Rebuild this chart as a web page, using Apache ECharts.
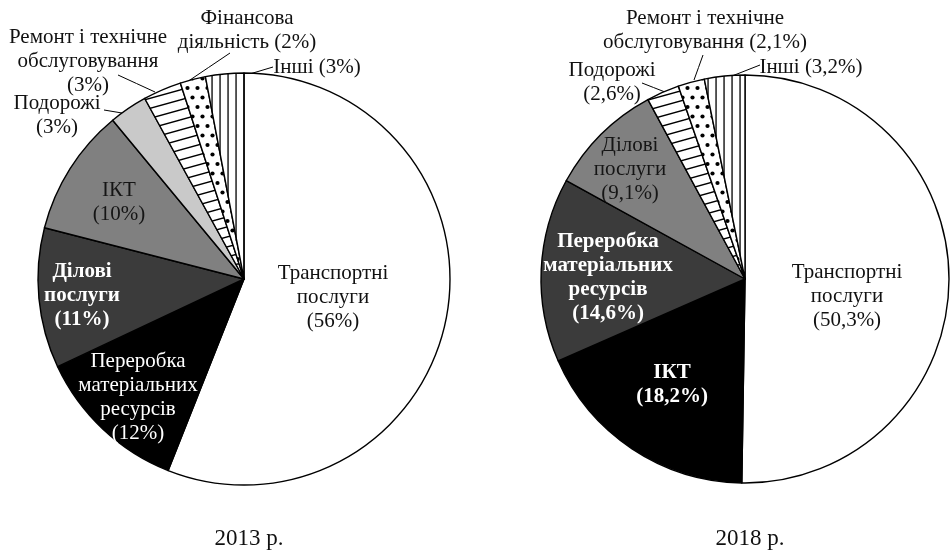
<!DOCTYPE html>
<html>
<head>
<meta charset="utf-8">
<script src="https://cdn.jsdelivr.net/npm/echarts@6/dist/echarts.min.js"></script>
<style>
html,body{margin:0;padding:0;background:#fff;}
#chart{width:950px;height:551px;}
</style>
</head>
<body>
<div id="chart"></div>
<script>
// ---- data ----
const categories2013 = ['Транспортні послуги', 'Переробка матеріальних ресурсів', 'Ділові послуги', 'ІКТ', 'Подорожі', 'Ремонт і технічне обслуговування', 'Фінансова діяльність', 'Інші'];
const values2013 = [56, 12, 11, 10, 3, 3, 2, 3];
const labelNames2013 = ['Транспортні\nпослуги', 'Переробка\nматеріальних\nресурсів', 'Ділові\nпослуги', 'ІКТ', 'Подорожі', 'Ремонт і технічне\nобслуговування', 'Фінансова\nдіяльність', 'Інші'];
const labelJoin2013 = ['\n', '\n', '\n', '\n', '\n', '\n', ' ', ' '];

const categories2018 = ['Транспортні послуги', 'ІКТ', 'Переробка матеріальних ресурсів', 'Ділові послуги', 'Подорожі', 'Ремонт і технічне обслуговування', 'Інші'];
const values2018 = [50.3, 18.2, 14.6, 9.1, 2.6, 2.1, 3.2];
const labelNames2018 = ['Транспортні\nпослуги', 'ІКТ', 'Переробка\nматеріальних\nресурсів', 'Ділові\nпослуги', 'Подорожі', 'Ремонт і технічне\nобслуговування', 'Інші'];
const labelJoin2018 = ['\n', '\n', '\n', '\n', '\n', ' ', ' '];

const titles = ['2013 р.', '2018 р.'];

// ---- patterns ----
function hLines() {
  const c = document.createElement('canvas'); c.width = 36; c.height = 10;
  const g = c.getContext('2d'); g.fillStyle = '#fff'; g.fillRect(0, 0, 36, 10);
  g.strokeStyle = '#000'; g.lineWidth = 1.4;
  [-10, 0, 10].forEach(k => { g.beginPath(); g.moveTo(0, k + 10); g.lineTo(36, k); g.stroke(); });
  return c;
}
function vLines() {
  const c = document.createElement('canvas'); c.width = 8; c.height = 8;
  const g = c.getContext('2d'); g.fillStyle = '#fff'; g.fillRect(0, 0, 8, 8);
  g.fillStyle = '#000'; g.fillRect(3.4, 0, 1.3, 8);
  return c;
}
function dots() {
  const c = document.createElement('canvas'); c.width = 10; c.height = 19;
  const g = c.getContext('2d'); g.fillStyle = '#fff'; g.fillRect(0, 0, 10, 19);
  g.fillStyle = '#000';
  [[2.5, 2.5], [7.5, 12]].forEach(p => { g.beginPath(); g.arc(p[0], p[1], 2.1, 0, Math.PI * 2); g.fill(); });
  return c;
}
const P_H = { image: hLines(), repeat: 'repeat' };
const P_V = { image: vLines(), repeat: 'repeat' };
const P_D = { image: dots(), repeat: 'repeat' };

// ---- styles ----
const fills2013 = ['#ffffff', '#000000', '#3b3b3b', '#808080', '#c9c9c9', P_H, P_D, P_V];
const fills2018 = ['#ffffff', '#000000', '#3b3b3b', '#808080', P_H, P_D, P_V];
const txt2013 = [
  { c: '#111', b: 'normal', pos: 'inside' }, { c: '#fff', b: 'normal', pos: 'inside' },
  { c: '#fff', b: 'bold', pos: 'inside' }, { c: '#151515', b: 'normal', pos: 'inside' },
  { c: '#111', b: 'normal', pos: 'outside' }, { c: '#111', b: 'normal', pos: 'outside' },
  { c: '#111', b: 'normal', pos: 'outside' }, { c: '#111', b: 'normal', pos: 'outside' }
];
const txt2018 = [
  { c: '#111', b: 'normal', pos: 'inside' }, { c: '#fff', b: 'bold', pos: 'inside' },
  { c: '#fff', b: 'bold', pos: 'inside' }, { c: '#151515', b: 'normal', pos: 'inside' },
  { c: '#111', b: 'normal', pos: 'outside' }, { c: '#111', b: 'normal', pos: 'outside' },
  { c: '#111', b: 'normal', pos: 'outside' }
];
// label placement relative to pie centre (px); leader line from label to slice
const place2013 = [
  { l: [89, 18] }, { l: [-106, 118] }, { l: [-162, 17] }, { l: [-125, -77] },
  { l: [-187, -164], a: [-140, -169], b: [-122, -166] },
  { l: [-156, -218], a: [-126, -204], b: [-89, -187] },
  { l: [3, -249], a: [-14, -226], b: [-57, -197] },
  { l: [73, -212], a: [29, -212], b: [-1, -203] }
];
const place2018 = [
  { l: [102, 17] }, { l: [-73, 106] }, { l: [-137, -1] }, { l: [-115, -110] },
  { l: [-133, -197], a: [-103, -196], b: [-80, -187] },
  { l: [-40, -249], a: [-42, -224], b: [-51, -199] },
  { l: [66, -212], a: [15, -214], b: [-13, -203] }
];
const centers = [[244, 279], [745, 279]];
const radii = [206, 204];
const FONT = 'Liberation Serif';

function fmtPct(v) { return '(' + String(v).replace('.', ',') + '%)'; }

function buildSeries(idx, cats, vals, names, joins, fills, txt, place) {
  const c = centers[idx];
  return {
    type: 'pie',
    center: c,
    radius: radii[idx],
    startAngle: 90,
    clockwise: true,
    avoidLabelOverlap: false,
    animation: false,
    emphasis: { disabled: true },
    itemStyle: { borderColor: '#000', borderWidth: 1.4 },
    label: {
      show: true, fontFamily: FONT, fontSize: 21, lineHeight: 24,
      formatter: p => names[p.dataIndex] + joins[p.dataIndex] + fmtPct(vals[p.dataIndex])
    },
    labelLine: { show: false, lineStyle: { color: '#000', width: 1 } },
    labelLayout: function (p) {
      const L = place[p.dataIndex];
      const res = { x: c[0] + L.l[0], y: c[1] + L.l[1], align: 'center', verticalAlign: 'middle' };
      if (L.a) {
        const A = [c[0] + L.b[0], c[1] + L.b[1]];
        const B = [c[0] + L.a[0], c[1] + L.a[1]];
        res.labelLinePoints = [A, [(A[0] + B[0]) / 2, (A[1] + B[1]) / 2], B];
      }
      return res;
    },
    data: vals.map((v, i) => ({
      name: cats[i], value: v,
      itemStyle: { color: fills[i] },
      label: { position: txt[i].pos, color: txt[i].c, fontWeight: txt[i].b },
      labelLine: { show: txt[i].pos === 'outside', length: 10, length2: 10 }
    }))
  };
}

const chart = echarts.init(document.getElementById('chart'), null, { renderer: 'canvas' });
chart.setOption({
  backgroundColor: '#fff',
  animation: false,
  title: titles.map((t, i) => ({
    text: t, left: centers[i][0], top: 522, textAlign: 'center',
    textStyle: { fontFamily: FONT, fontSize: 23, fontWeight: 'normal', color: '#111' }
  })),
  series: [
    buildSeries(0, categories2013, values2013, labelNames2013, labelJoin2013, fills2013, txt2013, place2013),
    buildSeries(1, categories2018, values2018, labelNames2018, labelJoin2018, fills2018, txt2018, place2018)
  ]
});
</script>
</body>
</html>
